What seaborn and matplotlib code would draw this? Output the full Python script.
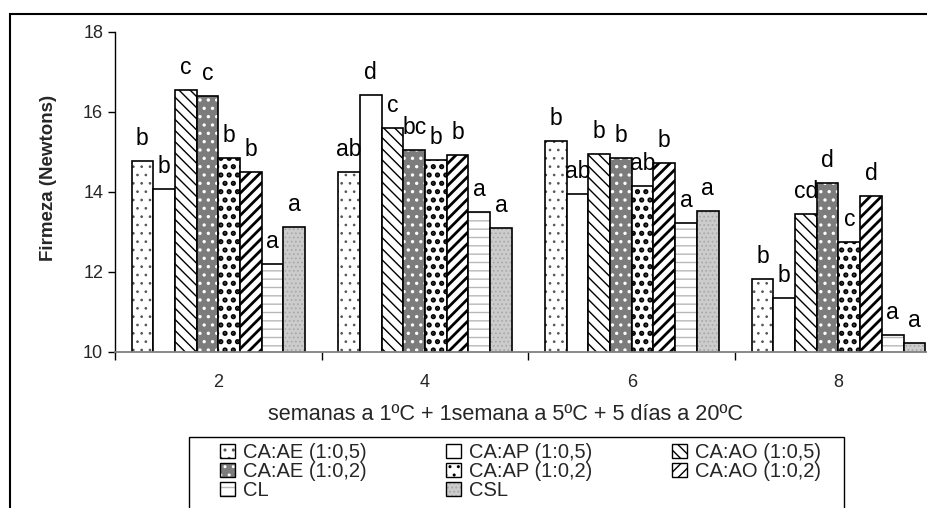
import matplotlib
matplotlib.use("Agg")
import matplotlib.pyplot as plt
import seaborn as sns
import pandas as pd
from matplotlib.patches import Patch, Rectangle
from matplotlib.colors import to_rgba

# ---------------- data ----------------
weeks = ["2", "4", "6", "8"]
treatments = ["CA:AE (1:0,5)", "CA:AP (1:0,5)", "CA:AO (1:0,5)",
              "CA:AE (1:0,2)", "CA:AP (1:0,2)", "CA:AO (1:0,2)",
              "CL", "CSL"]
ae_05 = [14.77, 14.49, 15.27, 11.82]
ap_05 = [14.07, 16.43, 13.95, 11.36]
ao_05 = [16.55, 15.59, 14.95, 13.45]
ae_02 = [16.39, 15.04, 14.84, 14.22]
ap_02 = [14.85, 14.80, 14.15, 12.75]
ao_02 = [14.50, 14.92, 14.73, 13.89]
cl = [12.20, 13.49, 13.22, 10.42]
csl = [13.13, 13.10, 13.52, 10.22]

letters_ae_05 = ["b", "ab", "b", "b"]
letters_ap_05 = ["b", "d", "ab", "b"]
letters_ao_05 = ["c", "c", "b", "cd"]
letters_ae_02 = ["c", "bc", "b", "d"]
letters_ap_02 = ["b", "b", "ab", "c"]
letters_ao_02 = ["b", "b", "b", "d"]
letters_cl = ["a", "a", "a", "a"]
letters_csl = ["a", "a", "a", "a"]

series = [ae_05, ap_05, ao_05, ae_02, ap_02, ao_02, cl, csl]
letters = [letters_ae_05, letters_ap_05, letters_ao_05, letters_ae_02,
           letters_ap_02, letters_ao_02, letters_cl, letters_csl]

# styles: facecolor, hatch, hatch colour, hatch linewidth
styles = [
    ("white", "..", "#555555", 0.7),
    ("white", "", "black", 1.0),
    ("white", "\\\\\\", "black", 1.0),
    ("#7c7c7c", "..", "white", 1.2),
    ("white", "..", "black", 2.5),
    ("white", "///", "black", 2.0),
    ("white", "--", "#b8b8b8", 1.0),
    ("#cccccc", "....", "#aaaaaa", 0.8),
]

rows = []
for t, vals in zip(treatments, series):
    for w, v in zip(weeks, vals):
        rows.append({"semana": w, "firmeza": v, "tratamiento": t})
df = pd.DataFrame(rows)

# ---------------- style ----------------
sns.set_theme(style="white")
plt.rcParams["font.family"] = ["Liberation Sans", "DejaVu Sans"]
plt.rcParams["hatch.linewidth"] = 1.0


def style_patch(p, face, hatch, hcol, hlw):
    p.set_facecolor(face)
    p.set_edgecolor("black")
    p.set_linewidth(1.2)
    p.set_hatch(hatch if hatch else None)
    if hasattr(p, "set_hatchcolor"):
        p.set_hatchcolor(hcol)
    else:
        p._hatch_color = to_rgba(hcol)
    if hasattr(p, "set_hatch_linewidth"):
        p.set_hatch_linewidth(hlw)
    else:
        p._hatch_linewidth = hlw


W, H = 927, 508
fig = plt.figure(figsize=(W / 100, H / 100), dpi=100)
ax = fig.add_axes([115 / W, 1 - 352 / H, 826.8 / W, 320 / H])

sns.barplot(data=df, x="semana", y="firmeza", hue="tratamiento",
            order=weeks, hue_order=treatments, width=0.84, saturation=1,
            legend=False, ax=ax, errorbar=None)

for cont, st, labs in zip(ax.containers, styles, letters):
    for bar, lab in zip(cont.patches, labs):
        style_patch(bar, *st)
        ax.annotate(lab, (bar.get_x() + bar.get_width() / 2, bar.get_height()),
                    xytext=(0, 11.5), textcoords="offset points",
                    ha="center", va="baseline", fontsize=16.5, color="black")

ax.set_ylim(10, 18)
ax.set_xlim(-0.5, 3.5)
ax.set_yticks([10, 12, 14, 16, 18])
ax.tick_params(axis="y", which="major", direction="out", length=5, width=1,
               color="black", labelsize=13, pad=3.5, left=True)
ax.set_xticks(range(len(weeks)))
ax.set_xticklabels(weeks)
ax.tick_params(axis="x", which="major", length=0, labelsize=13, pad=16)
ax.set_xticks([-0.5, 0.5, 1.5, 2.5, 3.5], minor=True)
ax.tick_params(axis="x", which="minor", direction="out", length=6, width=1,
               color="black", bottom=True)
ax.set_xlabel("")
ax.set_ylabel("")
for s in ["top", "right"]:
    ax.spines[s].set_visible(False)
ax.spines["left"].set_color("black")
ax.spines["left"].set_linewidth(1.0)
ax.spines["bottom"].set_color("#808080")
ax.spines["bottom"].set_linewidth(1.3)

fig.text(49 / W, 1 - 178 / H, "Firmeza (Newtons)", rotation=90,
         ha="center", va="center", fontsize=13.5, fontweight="bold")
fig.text(506 / W, 1 - 414 / H, "semanas a 1ºC + 1semana a 5ºC + 5 días a 20ºC",
         ha="center", va="center", fontsize=15.6)

# legend (column-major order for ncol=3)
order = [0, 3, 6, 1, 4, 7, 2, 5]
handles = []
for i in order:
    p = Patch(label=treatments[i])
    style_patch(p, *styles[i])
    p.set_linewidth(1.0)
    handles.append(p)
leg = fig.legend(handles=handles, labels=[treatments[i] for i in order],
                 ncol=3, loc="upper left",
                 bbox_to_anchor=(220 / W, 1 - 443 / H),
                 frameon=False, fontsize=14.5,
                 handlelength=0.75, handleheight=0.75, handletextpad=0.4,
                 labelspacing=0.0, columnspacing=3.95, borderpad=0.0,
                 borderaxespad=0)

# legend frame and outer chart frame
fig.add_artist(Rectangle((189 / W, -0.1), (844 - 189) / W, 0.1 + 1 - 437 / H,
                         transform=fig.transFigure, fill=False,
                         edgecolor="black", linewidth=1.0))
fig.add_artist(Rectangle((10 / W, -0.1), 1.2, 1.1 - 14 / H,
                         transform=fig.transFigure, fill=False,
                         edgecolor="black", linewidth=1.5))

fig.savefig("out.png", dpi=100)
